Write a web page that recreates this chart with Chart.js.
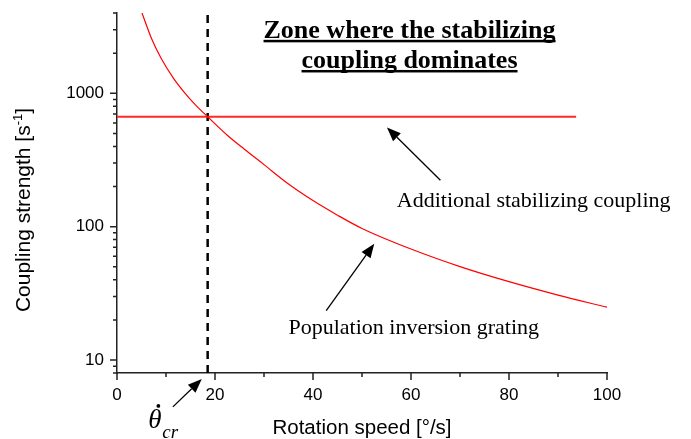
<!DOCTYPE html>
<html>
<head>
<meta charset="utf-8">
<script src="https://cdn.jsdelivr.net/npm/chart.js@4/dist/chart.umd.min.js"></script>
<style>
  html, body { margin: 0; padding: 0; background: #fff; }
  canvas { display: block; }
</style>
</head>
<body>
<canvas id="chart" width="691" height="439"></canvas>
<script>
(function() {
  'use strict';

  // values
  const gratingSpeed    = [5.1, 7, 9, 11.5, 13.9, 16, 18.5, 22.5, 26, 30, 35, 40, 45, 50, 60, 70, 80, 90, 100];
  const gratingCoupling = [4000, 2600, 1830, 1300, 1000, 820, 667, 485, 381, 292, 209, 157, 122, 97, 68, 50.2, 38.7, 30.7, 24.9];
  const stabSpeed       = [0, 93.7];
  const stabCoupling    = [667, 667];
  const critSpeed       = 18.5;
  const yMajor          = [10, 100, 1000];
  const yRange          = [8, 4000];
  const xRange          = [0, 100];

  const SANS = '"Liberation Sans", Arial, sans-serif';
  const SERIF = '"Liberation Serif", "Times New Roman", serif';
  const AXIS = '#222';

  const zip = (xs, ys) => xs.map((v, i) => ({ x: v, y: ys[i] }));

  // annotations, in data units
  const arrows = [
    { from: [66.0, 223], to: [55.1, 555] },
    { from: [42.7, 23.5], to: [52.5, 74.5] },
    { from: [11.4, 4.46], to: [17.3, 7.2] }
  ];

  function arrow(ctx, x1, y1, x2, y2) {
    const a = Math.atan2(y2 - y1, x2 - x1);
    const len = 14, half = 5.5;
    const bx = x2 - len * Math.cos(a), by = y2 - len * Math.sin(a);
    ctx.beginPath();
    ctx.moveTo(x1, y1); ctx.lineTo(bx, by);
    ctx.stroke();
    ctx.beginPath();
    ctx.moveTo(x2, y2);
    ctx.lineTo(bx + half * Math.sin(a), by - half * Math.cos(a));
    ctx.lineTo(bx - half * Math.sin(a), by + half * Math.cos(a));
    ctx.closePath();
    ctx.fill();
  }

  const decorations = {
    id: 'decorations',
    afterDraw(chart) {
      const { ctx, chartArea: ca, scales: { x, y } } = chart;
      const px = v => x.getPixelForValue(v);
      const py = v => y.getPixelForValue(v);
      ctx.save();

      // tick marks, outside the frame
      ctx.strokeStyle = AXIS; ctx.lineWidth = 1.5;
      ctx.beginPath();
      for (let d = 1; d <= 1000; d *= 10) {
        for (let m = 1; m <= 9; m++) {
          const v = d * m;
          if (v < yRange[0] || v > yRange[1]) continue;
          const len = m === 1 ? 7 : 4;
          ctx.moveTo(ca.left - len, py(v)); ctx.lineTo(ca.left, py(v));
        }
      }
      for (let v = xRange[0]; v <= xRange[1]; v += 10) {
        const len = v % 20 === 0 ? 7 : 4;
        ctx.moveTo(px(v), ca.bottom); ctx.lineTo(px(v), ca.bottom + len);
      }
      ctx.stroke();

      // axis titles
      ctx.fillStyle = '#000';
      ctx.font = '20.5px ' + SANS;
      ctx.textAlign = 'center'; ctx.textBaseline = 'alphabetic';
      ctx.fillText('Rotation speed [\u00b0/s]', (ca.left + ca.right) / 2, 434);

      ctx.save();
      ctx.translate(30, 210);
      ctx.rotate(-Math.PI / 2);
      ctx.textAlign = 'left';
      const main = 'Coupling strength [s', sup = '-1', tail = ']';
      ctx.font = '21px ' + SANS;
      const w1 = ctx.measureText(main).width, w3 = ctx.measureText(tail).width;
      ctx.font = '13px ' + SANS;
      const w2 = ctx.measureText(sup).width;
      let cx = -(w1 + w2 + w3) / 2;
      ctx.font = '21px ' + SANS;
      ctx.fillText(main, cx, 0); cx += w1;
      ctx.font = '13px ' + SANS;
      ctx.fillText(sup, cx, -8); cx += w2;
      ctx.font = '21px ' + SANS;
      ctx.fillText(tail, cx, 0);
      ctx.restore();

      // zone heading, bold + underlined
      ctx.font = 'bold 26px ' + SERIF;
      ctx.textAlign = 'center';
      [['Zone where the stabilizing', 2606], ['coupling dominates', 1549]].forEach(([t, v]) => {
        const cxh = px(59.7), by = py(v);
        ctx.fillText(t, cxh, by);
        const w = ctx.measureText(t).width;
        ctx.fillRect(cxh - w / 2, by + 2, w, 2.5);
      });

      // curve labels
      ctx.font = '22px ' + SERIF;
      ctx.textAlign = 'left';
      ctx.fillText('Additional stabilizing coupling', px(57.1), py(140));
      ctx.fillText('Population inversion grating', px(35.0), py(15.8));

      // critical speed symbol
      const tx = px(6.4), ty = py(3.1);
      ctx.font = 'italic 27px ' + SERIF;
      ctx.fillText('\u03b8', tx, ty);
      ctx.beginPath();
      ctx.arc(tx + 10, ty - 22, 1.9, 0, Math.PI * 2);
      ctx.fill();
      ctx.font = 'italic 19px ' + SERIF;
      ctx.fillText('cr', tx + 14, ty + 10);

      // arrows
      ctx.strokeStyle = '#000'; ctx.lineWidth = 1.3;
      arrows.forEach(a => arrow(ctx, px(a.from[0]), py(a.from[1]), px(a.to[0]), py(a.to[1])));

      ctx.restore();
    }
  };

  new Chart(document.getElementById('chart'), {
    type: 'line',
    data: {
      datasets: [
        {
          data: zip(gratingSpeed, gratingCoupling),
          borderColor: '#ff0000', borderWidth: 1.2,
          cubicInterpolationMode: 'monotone', pointRadius: 0
        },
        {
          data: zip(stabSpeed, stabCoupling),
          borderColor: '#ff2a2a', borderWidth: 2, pointRadius: 0
        },
        {
          data: zip([critSpeed, critSpeed], yRange),
          borderColor: '#000', borderWidth: 2.5, borderDash: [8, 6],
          pointRadius: 0
        }
      ]
    },
    options: {
      responsive: false,
      animation: false,
      devicePixelRatio: 1,
      layout: { padding: { left: 0, right: 84, top: 13, bottom: 0 } },
      plugins: { legend: { display: false }, tooltip: { enabled: false } },
      scales: {
        x: {
          type: 'linear', min: xRange[0], max: xRange[1],
          grid: { drawOnChartArea: false, drawTicks: false },
          border: { display: true, color: AXIS, width: 1.5 },
          ticks: { stepSize: 20, color: '#000', padding: 12, font: { family: SANS, size: 17 } },
          afterFit: s => { s.height = 66; }
        },
        y: {
          type: 'logarithmic', min: yRange[0], max: yRange[1],
          grid: { drawOnChartArea: false, drawTicks: false },
          border: { display: true, color: AXIS, width: 1.5 },
          afterBuildTicks: s => { s.ticks = yMajor.map(v => ({ value: v })); },
          ticks: {
            autoSkip: false, color: '#000', padding: 13,
            font: { family: SANS, size: 17 },
            callback: v => String(v)
          },
          afterFit: s => { s.width = 117; s.paddingTop = 0; s.paddingBottom = 0; }
        }
      }
    },
    plugins: [decorations]
  });
})();
</script>
</body>
</html>
